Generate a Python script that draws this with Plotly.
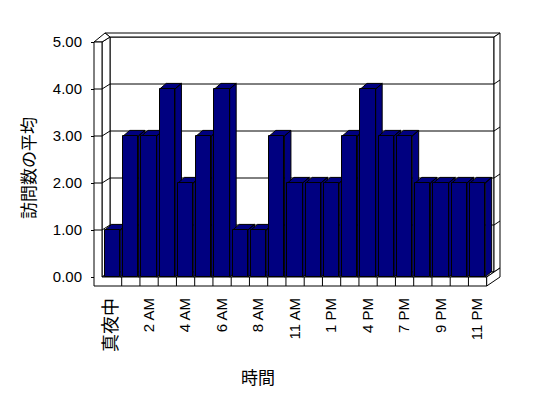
import plotly.graph_objects as go

# ---- data ----
categories = ["真夜中", "1 AM", "2 AM", "3 AM", "4 AM", "5 AM", "6 AM", "7 AM", "8 AM",
              "10 AM", "11 AM", "正午", "1 PM", "3 PM", "4 PM", "6 PM", "7 PM", "8 PM",
              "9 PM", "10 PM", "11 PM"]
values = [1, 3, 3, 4, 2, 3, 4, 1, 1, 3, 2, 2, 2, 3, 4, 3, 3, 2, 2, 2, 2]
y_ticks = [0, 1, 2, 3, 4, 5]
y_title = "訪問数の平均"
x_title = "時間"

W, H = 548, 398
PXX = 18.25   # px per category
PXY = 47.0    # px per unit
X0PX = 103.45  # pixel of category -0.5
Y0PX = 277.0   # pixel of value 0 (front plane)

xmin = -0.5 - X0PX / PXX
xmax = xmin + W / PXX
ymin = -(H - Y0PX) / PXY
ymax = ymin + H / PXY


def X(px):
    return xmin + px / PXX


def Y(py):
    return ymin + (H - py) / PXY


NAVY = "#000080"
fig = go.Figure()

# 3D caps (top + side) of each bar, drawn under the front faces
bw = 0.833
ddx = 6.5 / PXX
ddy = 5.6 / PXY
for i, v in enumerate(values):
    xl = i - bw / 2
    xr = i + bw / 2
    xs = [xl, xr, xr + ddx, xl + ddx, xl, None, xr, xr, xr + ddx, xr + ddx, xr]
    ys = [v, v, v + ddy, v + ddy, v, None, 0, v, v + ddy, ddy, 0]
    fig.add_trace(go.Scatter(x=xs, y=ys, mode="lines", fill="toself", fillcolor=NAVY,
                             line=dict(color="black", width=1), hoverinfo="skip",
                             showlegend=False, zorder=0))

fig.add_trace(go.Bar(x=list(range(len(values))), y=values, width=bw,
                     marker=dict(color=NAVY, line=dict(color="black", width=1)),
                     showlegend=False, zorder=1, hovertext=categories))

# ---- walls / floor ----
shapes = []


def poly(pts, fill="white"):
    d = "M " + " L ".join(f"{X(a):.5f},{Y(b):.5f}" for a, b in pts) + " Z"
    shapes.append(dict(type="path", path=d, xref="x", yref="y", layer="below",
                       fillcolor=fill, line=dict(color="black", width=1)))


def seg(a, b, c, d):
    shapes.append(dict(type="line", x0=X(a), y0=Y(b), x1=X(c), y1=Y(d), xref="x", yref="y",
                       layer="below", line=dict(color="black", width=1)))


top_f = Y0PX - 5 * PXY
top_b = top_f - 5
XR = X0PX + PXX * len(values)
poly([(110, top_b), (494, top_b), (494, Y0PX - 5), (110, Y0PX - 5)])          # back wall face
poly([(105, top_b - 4), (500, top_b - 4), (494, top_b), (110, top_b)])        # back top rim
poly([(494, top_b), (500, top_b - 4), (500, Y0PX - 9), (494, Y0PX - 5)])      # back right rim
poly([(102, top_f), (110, top_b), (110, Y0PX - 5), (102, Y0PX)])             # left wall face
poly([(94, top_f), (105, top_b - 4), (110, top_b), (102, top_f)])            # left top rim
poly([(102, Y0PX), (XR, Y0PX), (494, Y0PX - 5), (110, Y0PX - 5)])             # floor top
poly([(94, top_f), (102, top_f), (102, Y0PX), (XR, Y0PX), (XR, Y0PX + 9), (94, Y0PX + 9)])  # front faces
poly([(XR, Y0PX), (500, Y0PX - 9), (500, Y0PX), (XR, Y0PX + 9)])             # floor right rim

for v in y_ticks[1:5]:
    yf = Y0PX - v * PXY
    yb = yf - 5
    seg(110, yb, 494, yb)
    seg(102, yf, 110, yb)
    seg(494, yb, 500, yb - 4)
    seg(94, yf, 102, yf)

for k in range(1, len(values)):
    xk = X0PX + PXX * k
    seg(xk, Y0PX, xk, Y0PX + 9)

tick_idx = list(range(0, len(categories), 2))
tick_text = [categories[i] if i else f'<span style="font-size:18px">{categories[i]}</span>'
             for i in tick_idx]

FONT = "Liberation Sans, Arial, Noto Sans CJK JP"
fig.update_layout(
    width=W, height=H, margin=dict(l=0, r=0, t=0, b=0), autosize=False,
    paper_bgcolor="white", plot_bgcolor="white",
    font=dict(family=FONT, size=14, color="black"),
    bargap=0, shapes=shapes,
    xaxis=dict(range=[xmin, xmax], tickvals=tick_idx, ticktext=tick_text, tickangle=-90,
               showgrid=False, zeroline=False, showline=False, ticks="",
               anchor="free", position=(H - (Y0PX + 9)) / H, ticklabelstandoff=8,
               tickfont=dict(size=15)),
    yaxis=dict(range=[ymin, ymax], tickvals=y_ticks, ticktext=[f"{v:.2f}" for v in y_ticks],
               showgrid=False, zeroline=False, showline=False, ticks="outside", ticklen=3,
               tickcolor="black", anchor="free", position=94 / W, ticklabelstandoff=6,
               tickfont=dict(size=15)),
    annotations=[
        dict(text=y_title, x=X(27), y=Y(168), xref="x", yref="y", showarrow=False,
             textangle=-90, font=dict(family="Noto Sans CJK JP", size=17)),
        dict(text=x_title, x=X(258), y=Y(376), xref="x", yref="y", showarrow=False,
             font=dict(family="Noto Sans CJK JP", size=17)),
    ],
)

fig.write_html("out.html", config={"displayModeBar": False},
               post_script="document.body.style.margin='0';document.body.style.overflow='hidden';")
